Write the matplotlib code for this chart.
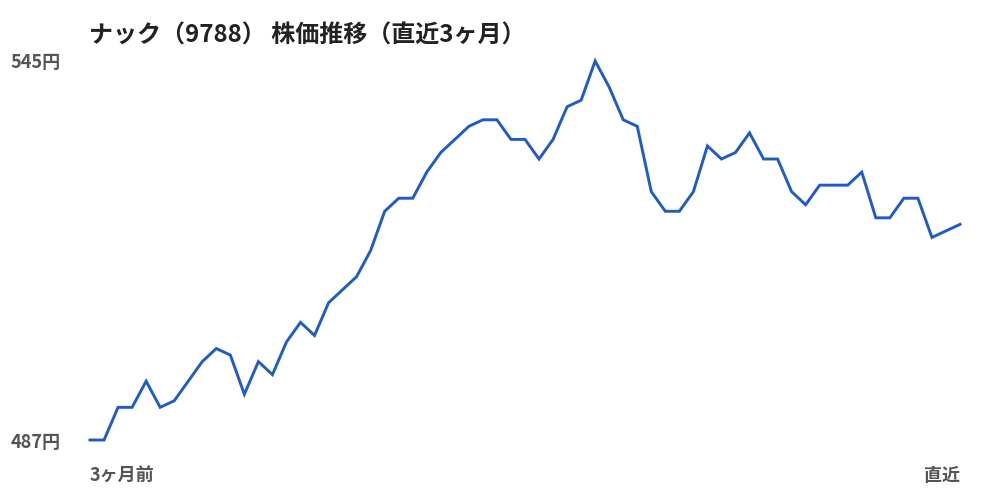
import matplotlib
matplotlib.use("Agg")
import matplotlib.pyplot as plt

plt.rcParams['font.family'] = ['Noto Sans CJK JP', 'DejaVu Sans']

title = "ナック（9788） 株価推移（直近3ヶ月）"
prices = [487, 487, 492, 492, 496, 492, 493, 496, 499, 501,
          500, 494, 499, 497, 502, 505, 503, 508, 510, 512,
          516, 522, 524, 524, 528, 531, 533, 535, 536, 536,
          533, 533, 530, 533, 538, 539, 545, 541, 536, 535,
          525, 522, 522, 525, 532, 530, 531, 534, 530, 530,
          525, 523, 526, 526, 526, 528, 521, 521, 524, 524,
          518, 519, 520]
y_ticks = [487, 545]
y_labels = ["487円", "545円"]
x_labels = ["3ヶ月前", "直近"]

days = list(range(len(prices)))

fig = plt.figure(figsize=(10, 5), dpi=100)
ax = fig.add_axes([0.09, 0.12, 0.87, 0.758])
ax.plot(days, prices, color="#1f5bc9", linewidth=2.1, clip_on=False,
        solid_joinstyle="miter")
ax.set_xlim(days[0], days[-1])
ax.set_ylim(y_ticks[0], y_ticks[-1])

for s in ax.spines.values():
    s.set_visible(False)

ax.set_yticks(y_ticks)
ax.set_yticklabels(y_labels, fontsize=13, fontweight="bold", color="#555555")
ax.tick_params(axis="y", length=0, pad=21)

ax.set_xticks([days[0], days[-1]])
ax.set_xticklabels(x_labels, fontsize=13, fontweight="bold", color="#555555")
ax.tick_params(axis="x", length=0, pad=19)
xl = ax.get_xticklabels()
xl[0].set_ha("left")
xl[1].set_ha("right")

fig.text(0.089, 0.929, title, fontsize=17.3, fontweight="bold",
         color="#222222", ha="left", va="center")

fig.savefig("out.png", dpi=100)
